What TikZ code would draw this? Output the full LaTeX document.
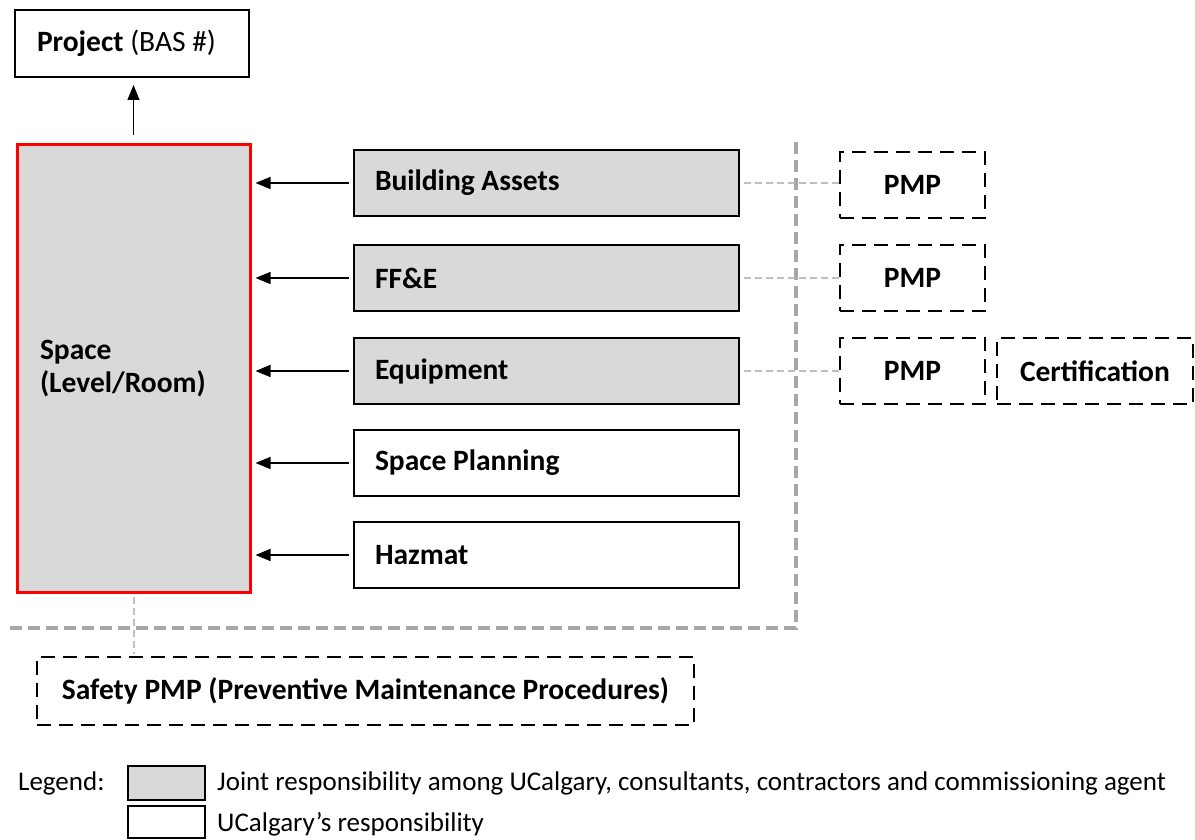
\documentclass[tikz,border=0pt]{standalone}
\usepackage{fontspec}
\setmainfont{Carlito}
\usetikzlibrary{arrows.meta}
\definecolor{boxgray}{HTML}{D9D9D9}
\definecolor{sepgray}{HTML}{A6A6A6}
\definecolor{linkgray}{HTML}{BFBFBF}
\definecolor{spacered}{HTML}{FF0000}
\tikzset{
  bigfont/.style={font=\fontsize{29.5}{33}\selectfont},
  legfont/.style={font=\fontsize{27}{32}\selectfont},
  itembox/.style={draw, line width=2pt, minimum height=66pt, inner xsep=21pt, text width=343pt, align=flush left, font=\bfseries\fontsize{29.5}{33}\selectfont},
  jointfill/.style={fill=boxgray},
  dashbox/.style={draw, line width=2.2pt, dash pattern=on 14pt off 8pt, minimum height=66pt, inner sep=0pt, align=center, font=\bfseries\fontsize{29.5}{33}\selectfont},
  feed/.style={line width=1.3pt, -{Triangle[length=15pt,width=12pt]}},
  link/.style={draw=linkgray, line width=2pt, dash pattern=on 7pt off 4pt},
  sep/.style={draw=sepgray, line width=4.5pt, dash pattern=on 12pt off 6pt},
  legbox/.style={draw, line width=2pt, minimum width=77pt, inner sep=0pt},
}
\begin{document}
\begin{tikzpicture}[x=1pt,y=-1pt]
\useasboundingbox (0,0) rectangle (1195,840);
% separator
\coordinate (s1) at (796,142);
\coordinate (s2) at (796,628);
\coordinate (s3) at (8,628);
\draw[sep] (s1) -- (s2) -- (s3);
% project
\node[draw, line width=2pt, minimum width=234pt, minimum height=67pt, inner xsep=22pt, text width=190pt, align=flush left, bigfont] (project) at (132,43.5) {\textbf{Project} (BAS \#)};
% space
\node[draw=spacered, fill=boxgray, line width=3pt, minimum width=233pt, minimum height=447pt, inner xsep=23pt, text width=187pt, align=flush left, font=\bfseries\fontsize{29.5}{33}\selectfont] (space) at (133.5,368.5) {Space\\(Level/Room)};
% items
\node[itembox, jointfill] (assets) at (546.5,183) {Building Assets};
\node[itembox, jointfill] (ffe) at (546.5,278) {FF\&E};
\node[itembox, jointfill] (equip) at (546.5,371) {Equipment};
\node[itembox] (planning) at (546.5,463) {Space Planning};
\node[itembox] (hazmat) at (546.5,555) {Hazmat};
% PMP boxes
\node[dashbox, minimum width=145pt] (pmp1) at (912.5,185) {PMP};
\node[dashbox, minimum width=145pt] (pmp2) at (912.5,278) {PMP};
\node[dashbox, minimum width=145pt] (pmp3) at (912.5,371) {PMP};
\node[dashbox, minimum width=196pt] (cert) at (1095,371) {Certification};
% safety
\node[dashbox, minimum width=657pt, minimum height=68pt] (safety) at (365.5,691) {Safety PMP (Preventive Maintenance Procedures)};
% arrows into space
\foreach \n in {assets,ffe,equip,planning,hazmat}{
  \draw[feed, shorten <=4pt, shorten >=4pt] (\n.west) -- (\n.west -| space.east);
}
\draw[feed, shorten <=8pt, shorten >=7pt] (space.north) -- (space.north |- project.south);
% links
\draw[link, shorten <=4pt] (assets.east) -- (assets.east -| pmp1.west);
\draw[link, shorten <=4pt] (ffe.east) -- (ffe.east -| pmp2.west);
\draw[link, shorten <=4pt] (equip.east) -- (equip.east -| pmp3.west);
\draw[link, shorten <=3pt, shorten >=2pt] (space.south) -- (space.south |- safety.north);
% legend
\node[legfont, anchor=west, inner sep=0pt] (legend) at (18,783) {Legend:};
\node[legbox, fill=boxgray, minimum height=34pt] (legjoint) at (166.5,783) {};
\node[legbox, minimum height=32pt] (legown) at (166.5,822) {};
\node[legfont, anchor=west, inner sep=0pt] (legjointtxt) at (217,783) {Joint responsibility among UCalgary, consultants, contractors and commissioning agent};
\node[legfont, anchor=west, inner sep=0pt] (legowntxt) at (217,824) {UCalgary’s responsibility};
\end{tikzpicture}
\end{document}
